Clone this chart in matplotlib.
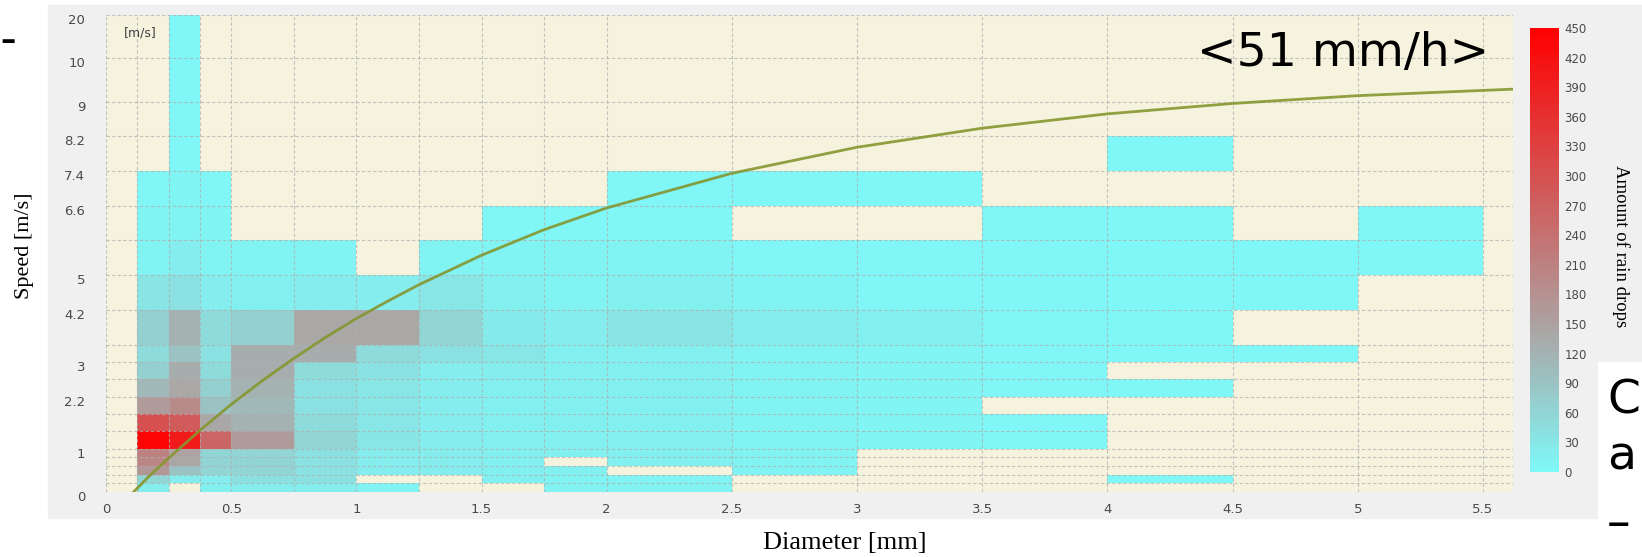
import numpy as np
import matplotlib
matplotlib.use('Agg')
import matplotlib.pyplot as plt
from matplotlib.colors import LinearSegmentedColormap
from matplotlib.patches import Rectangle
from matplotlib.transforms import ScaledTranslation

N = np.nan

# --- Data ---
diam_edges = [0, 0.125, 0.25, 0.375, 0.5, 0.75, 1.0, 1.25, 1.5, 1.75,
              2.0, 2.5, 3.0, 3.5, 4.0, 4.5, 5.0, 5.5]
speed_edges = [0, 0.2, 0.4, 0.6, 0.8, 1.0, 1.4, 1.8, 2.2, 2.6, 3.0,
               3.4, 4.2, 5.0, 5.8, 6.6, 7.4, 8.2, 9.0, 10, 20]
speed_ticks = [0, 1, 2.2, 3, 4.2, 5, 6.6, 7.4, 8.2, 9, 10, 20]
diam_ticks = [0, 0.5, 1, 1.5, 2, 2.5, 3, 3.5, 4, 4.5, 5, 5.5]
cbar_ticks = list(range(0, 451, 30))

# drop counts per diameter class, slowest speed class first (nan = no drops)
drops_per_class = [
    [N] * 20,
    [20, 60, 170, 200, 210, 440, 300, 160, 110, 70, 50, 70, 35, 10, 8, 5, N, N, N, N],
    [N, 20, 90, 140, 150, 400, 280, 190, 140, 130, 90, 120, 40, 20, 10, 8, 5, 5, 5, 3],
    [15, 20, 60, 60, 60, 260, 140, 90, 70, 50, 40, 50, 20, 10, 8, 5, N, N, N, N],
    [20, 40, 60, 60, 60, 160, 120, 110, 120, 130, 130, 70, 15, 10, N, N, N, N, N, N],
    [20, 40, 40, 40, 40, 60, 50, 40, 40, 50, 130, 140, 20, 10, N, N, N, N, N, N],
    [10, N, 20, 20, 20, 30, 30, 30, 30, 40, 50, 140, 20, N, N, N, N, N, N, N],
    [N, N, 20, 20, 20, 20, 20, 20, 20, 20, 40, 60, 30, 10, N, N, N, N, N, N],
    [N, 15, 15, 15, 15, 15, 15, 15, 15, 20, 30, 25, 15, 10, 5, N, N, N, N, N],
    [10, 10, 15, N, 15, 15, 15, 15, 15, 15, 15, 20, 10, 10, 5, N, N, N, N, N],
    [10, 10, N, 15, 15, 15, 15, 15, 15, 15, 15, 35, 15, 10, 5, 5, N, N, N, N],
    [N, N, 10, 10, 10, 10, 10, 10, 10, 10, 10, 20, 10, 5, N, 5, N, N, N, N],
    [N, N, N, N, N, 8, 8, 8, 8, 8, 8, 15, 5, 5, N, 3, N, N, N, N],
    [N, N, N, N, N, 5, 5, N, 5, 5, 5, 5, 5, 5, 3, N, N, N, N, N],
    [N, 2, N, N, N, N, N, N, 3, N, 3, 3, 3, 3, 3, N, 2, N, N, N],
    [N, N, N, N, N, N, N, N, N, N, 2, N, 2, 2, N, N, N, N, N, N],
    [N, N, N, N, N, N, N, N, N, N, N, N, N, 2, 2, N, N, N, N, N],
]

# terminal velocity reference curve
curve_diam = [0.11, 0.175, 0.25, 0.375, 0.5, 0.625, 0.75, 0.875, 1.0, 1.125,
              1.25, 1.5, 1.75, 2.0, 2.5, 3.0, 3.5, 4.0, 4.5, 5.0, 5.62]
curve_speed = [0.0, 0.38, 0.78, 1.42, 2.02, 2.57, 3.08, 3.56, 4.0, 4.40,
               4.78, 5.46, 6.05, 6.55, 7.35, 7.95, 8.39, 8.72, 8.96, 9.14, 9.29]

counts = np.array(drops_per_class, dtype=float).T

W, H = 1642, 557
fig = plt.figure(figsize=(W / 100, H / 100), dpi=100)
fig.patch.set_facecolor('white')

# grey panel of the screenshot + white slide box at lower right
fig.patches.append(Rectangle((48 / W, 1 - 518 / H), 1 - 48 / W, 513 / H,
                             transform=fig.transFigure, color='#f0f0f0', zorder=-2))
fig.patches.append(Rectangle((1598 / W, 0), 44 / W, 1 - 362 / H,
                             transform=fig.transFigure, color='white', zorder=-1))

ax = fig.add_axes([106 / W, 1 - 492 / H, (1513 - 106) / W, (492 - 15) / H])
ax.set_facecolor('#f5f3de')


def fwd(v):
    v = np.asarray(v, dtype=float)
    return np.where(v <= 10, v, 10 + (v - 10) / 10)


def inv(y):
    y = np.asarray(y, dtype=float)
    return np.where(y <= 10, y, 10 + (y - 10) * 10)


ax.set_yscale('function', functions=(fwd, inv))

cmap = LinearSegmentedColormap.from_list(
    'drops', [(0, '#7ff8f8'), (0.3, '#a9a9a9'), (1, '#ff0000')])
mesh = ax.pcolormesh(diam_edges, speed_edges, np.ma.masked_invalid(counts),
                     cmap=cmap, vmin=0, vmax=450)

ax.plot(curve_diam, curve_speed, color='#85962f', lw=2, alpha=0.9, zorder=3)

ax.set_xlim(0, 5.62)
ax.set_ylim(0, 20)
ax.set_xticks(diam_ticks)
ax.set_xticklabels([f'{t:g}' for t in diam_ticks])
ax.set_xticks(diam_edges, minor=True)
ax.set_yticks(speed_ticks)
ax.set_yticklabels([f'{t:g}' for t in speed_ticks])
ax.set_yticks(speed_edges, minor=True)
ax.tick_params(which='both', length=0, labelsize=9.5, labelcolor='#4a4a4a')
ax.tick_params(axis='x', pad=8)
ax.tick_params(axis='y', pad=15)
ax.set_axisbelow(False)
ax.grid(which='both', ls=(0, (3, 2)), color='#b0b0b0', lw=0.8, alpha=0.75)
for s in ax.spines.values():
    s.set_visible(False)
for lab in ax.get_yticklabels():
    lab.set_transform(lab.get_transform() + ScaledTranslation(0, -0.04, fig.dpi_scale_trans))

ax.text(0.013, 0.975, '[m/s]', transform=ax.transAxes, ha='left', va='top',
        fontsize=9, color='#404040')

# colour bar
cax = fig.add_axes([1530 / W, 1 - 472 / H, 29 / W, 444 / H])
cb = fig.colorbar(mesh, cax=cax, ticks=cbar_ticks)
cb.outline.set_visible(False)
cax.tick_params(length=0, labelsize=8.5, labelcolor='#4a4a4a', pad=4)

serif = 'Liberation Serif'
fig.text(24 / W, 1 - 246 / H, 'Speed [m/s]', rotation=90, ha='center', va='center',
         family=serif, fontsize=16)
fig.text(845 / W, 1 - 543 / H, 'Diameter [mm]', ha='center', va='center',
         family=serif, fontsize=19)
fig.text(1621 / W, 1 - 246 / H, 'Amount of rain drops', rotation=-90, ha='center',
         va='center', family=serif, fontsize=13.5)

# slide overlay text
fig.text(1489 / W, 1 - 66 / H, '<51 mm/h>', ha='right', va='baseline',
         fontsize=34, color='black')
fig.text(1607 / W, 1 - 414 / H, 'C', ha='left', va='baseline', fontsize=34)
fig.text(1607 / W, 1 - 469 / H, 'a', ha='left', va='baseline', fontsize=34)
fig.text(1607 / W, 1 - 537 / H, '–', ha='left', va='baseline', fontsize=34)
fig.text(0.5 / W, 1 - 49 / H, '–', ha='left', va='baseline', fontsize=22,
         fontweight='bold')

fig.savefig('out.png', dpi=100)
